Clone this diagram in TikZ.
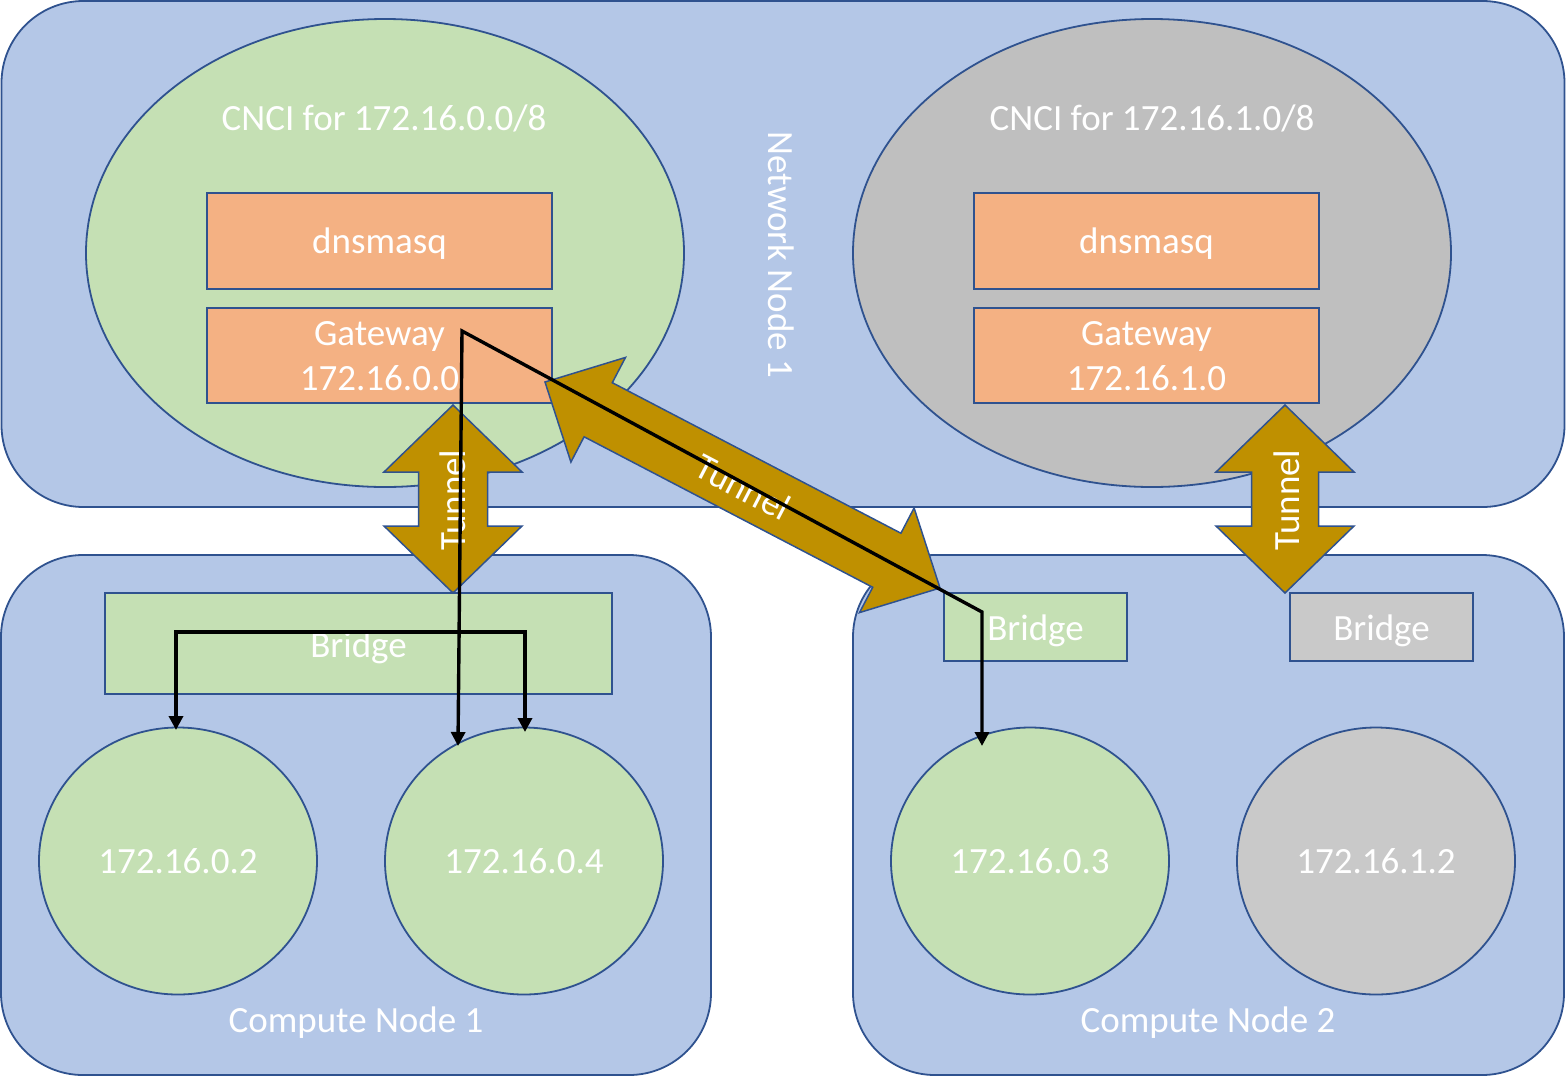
\documentclass[tikz,border=0pt]{standalone}
\usepackage{fontspec}
\setmainfont{Carlito}
\usetikzlibrary{calc,arrows.meta,shapes.geometric}
\definecolor{nodeblue}{HTML}{B4C7E7}
\definecolor{edgeblue}{HTML}{2F528F}
\definecolor{cgreen}{HTML}{C5E0B4}
\definecolor{cgray}{HTML}{BFBFBF}
\definecolor{cgraylt}{HTML}{C9C9C9}
\definecolor{corange}{HTML}{F4B183}
\definecolor{ctunnel}{HTML}{BF9000}
\newcommand\tunnelarrow[5]{%
  \path ($(#1)!#3!(#2)$) coordinate (ta1) ($(#2)!#3!(#1)$) coordinate (ta2);
  \filldraw[tunnelshape] (#1) -- ($(ta1)!#4!90:(#2)$) -- ($(ta1)!#5!90:(#2)$)
    -- ($(ta2)!#5!-90:(#1)$) -- ($(ta2)!#4!-90:(#1)$) -- (#2)
    -- ($(ta2)!#4!90:(#1)$) -- ($(ta2)!#5!90:(#1)$)
    -- ($(ta1)!#5!-90:(#2)$) -- ($(ta1)!#4!-90:(#2)$) -- cycle;}
\begin{document}
\begin{tikzpicture}[x=1pt,y=-1pt,
  every node/.style={font=\fontsize{37}{45}\selectfont, text=white, inner sep=0pt},
  bigbox/.style={draw=edgeblue, line width=1.8pt, fill=nodeblue, rounded corners=82pt, rectangle},
  oval/.style={draw=edgeblue, line width=1.8pt, ellipse},
  box/.style={draw=edgeblue, line width=1.8pt, rectangle, align=center},
  tunnelshape/.style={draw=edgeblue, line width=1.5pt, fill=ctunnel, line join=miter},
  wire/.style={draw=black, line width=3.4pt, line join=miter},
  tips/.style={{Triangle[length=14pt,width=14pt]}-{Triangle[length=14pt,width=14pt]}}]
\useasboundingbox (0,0) rectangle (1566,1077);
% big containers
\node[bigbox, minimum width=1563pt, minimum height=506pt] (nn1) at (783,254) {};
\node[bigbox, minimum width=710pt, minimum height=520pt] (cn1) at (356,815) {};
\node[bigbox, minimum width=711pt, minimum height=520pt] (cn2) at (1208.5,815) {};
% CNCI ellipses
\node[oval, fill=cgreen, minimum width=598pt, minimum height=468pt] (cnciA) at (385,253) {};
\node[oval, fill=cgray, minimum width=598pt, minimum height=468pt] (cnciB) at (1152,253) {};
\node (cnciAlbl) at (384,118) {CNCI for 172.16.0.0/8};
\node (cnciBlbl) at (1152,118) {CNCI for 172.16.1.0/8};
\node[rotate=-90] (nn1lbl) at (781,255) {Network Node 1};
% boxes
\node[box, fill=corange, minimum width=345pt, minimum height=96pt] (dnsA) at (379.5,241) {};
\node[box, fill=corange, minimum width=345pt, minimum height=95pt] (gwA) at (379.5,355.5) {};
\node[box, fill=corange, minimum width=345pt, minimum height=96pt] (dnsB) at (1146.5,241) {};
\node[box, fill=corange, minimum width=345pt, minimum height=95pt] (gwB) at (1146.5,355.5) {};
\node[align=center] (dnsAt) at (379.5,244) {dnsmasq};
\node[align=center] (gwAt) at (379.5,356.5) {Gateway\\172.16.0.0};
\node[align=center] (dnsBt) at (1146.5,244) {dnsmasq};
\node[align=center] (gwBt) at (1146.5,356.5) {Gateway\\172.16.1.0};
% compute node contents
\node[box, fill=cgreen, minimum width=507pt, minimum height=101pt] (brA) at (358.5,643.5) {};
\node[box, fill=cgreen, minimum width=183pt, minimum height=68pt] (brB) at (1035.5,627) {};
\node[box, fill=cgraylt, minimum width=183pt, minimum height=68pt] (brC) at (1381.5,627) {};
\node (brAt) at (358.5,648) {Bridge};
\node (brBt) at (1035.5,631) {Bridge};
\node (brCt) at (1381.5,631) {Bridge};
\node[oval, fill=cgreen, minimum width=278pt, minimum height=267pt] (vm02) at (178,861) {172.16.0.2};
\node[oval, fill=cgreen, minimum width=278pt, minimum height=267pt] (vm04) at (524,861) {172.16.0.4};
\node[oval, fill=cgreen, minimum width=278pt, minimum height=267pt] (vm03) at (1030,861) {172.16.0.3};
\node[oval, fill=cgraylt, minimum width=278pt, minimum height=267pt] (vm12) at (1376,861) {172.16.1.2};
\node (cn1lbl) at (356,1023) {Compute Node 1};
\node (cn2lbl) at (1208,1023) {Compute Node 2};
% tunnels
\coordinate (tAtop) at (453,405);
\coordinate (tAbot) at (453,593);
\coordinate (tBtop) at (1285,405);
\coordinate (tBbot) at (1285,593);
\coordinate (tCtop) at (545,382);
\coordinate (tCbot) at (940,588);
\tunnelarrow{tAtop}{tAbot}{67pt}{69pt}{34.5pt}
\tunnelarrow{tBtop}{tBbot}{67pt}{69pt}{33.5pt}
\tunnelarrow{tCtop}{tCbot}{60pt}{59pt}{30.5pt}
\node[rotate=90] (tAlbl) at (453,500) {Tunnel};
\node[rotate=90] (tBlbl) at (1287,500) {Tunnel};
\node[rotate=-27.5] (tClbl) at (743,487) {Tunnel};
% black flow lines
\coordinate (gwpt) at (462,331);
\coordinate (bend) at (982,612);
\coordinate (tip04) at (458,746);
\coordinate (tip03) at (982,746);
\coordinate (brL) at (176,632);
\coordinate (brR) at (525,632);
\coordinate (tip02) at (176,730);
\coordinate (tip04b) at (525,732);
\draw[wire, tips] (tip04) -- (gwpt) -- (bend) -- (tip03);
\draw[wire, tips] (tip02) -- (brL) -- (brR) -- (tip04b);
\end{tikzpicture}
\end{document}
